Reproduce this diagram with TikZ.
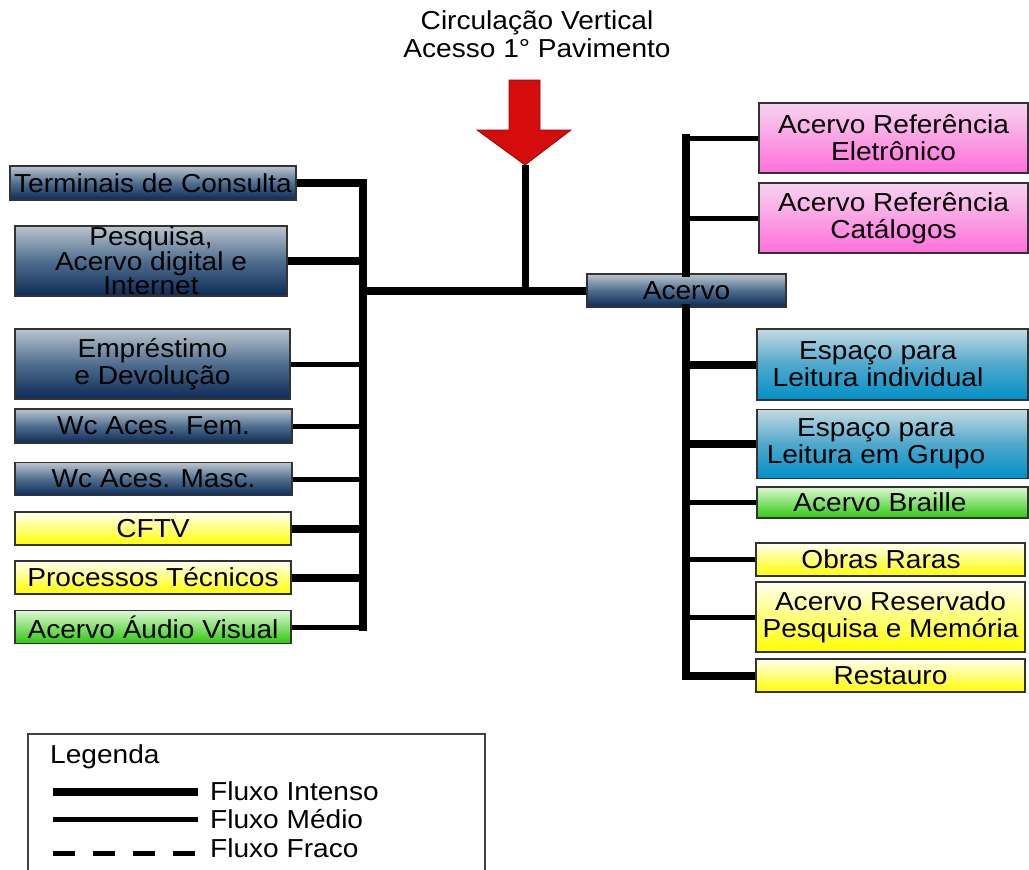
\documentclass[tikz,border=0pt]{standalone}
\usepackage{fontspec}
\setmainfont{Liberation Sans}[FakeStretch=1.08]
\newcommand\bfs{\fontsize{26}{27}\selectfont}
\newcommand\pfs{\fontsize{26}{24}\selectfont}
\definecolor{navytop}{HTML}{BCC5CF}
\definecolor{navymid}{HTML}{4F6E8E}
\definecolor{navybot}{HTML}{0C2A55}
\definecolor{pinktop}{HTML}{F6D4EF}
\definecolor{pinkbot}{HTML}{FF6FDB}
\definecolor{bluetop}{HTML}{C4DAE2}
\definecolor{bluemid}{HTML}{4FA8CC}
\definecolor{bluebot}{HTML}{0090C8}
\definecolor{greentop}{HTML}{DDF8D4}
\definecolor{greenbot}{HTML}{2EC80E}
\definecolor{yeltop}{HTML}{FFFFF2}
\definecolor{yelbot}{HTML}{FFFF00}
\definecolor{arrowred}{HTML}{D40C0C}
\tikzset{
  box/.style={draw=black!80, line width=1.5pt, inner sep=0pt, align=center, font=\bfs},
  navybox/.style={box, top color=navytop, bottom color=navybot, middle color=navymid},
  pinkbox/.style={box, top color=pinktop, bottom color=pinkbot},
  bluebox/.style={box, top color=bluetop, bottom color=bluebot, middle color=bluemid},
  greenbox/.style={box, top color=greentop, bottom color=greenbot},
  yelbox/.style={box, top color=yeltop, bottom color=yelbot},
  intenso/.style={line width=8pt},
  medio/.style={line width=5pt},
  fraco/.style={line width=5pt, dash pattern=on 22pt off 18pt},
  trunk/.style={line width=8pt, line cap=rect},
  lbl/.style={font=\bfs, inner sep=0pt},
  inlbl/.style={font=\bfs, inner sep=0pt, align=center},
}
\begin{document}
\begin{tikzpicture}[x=1pt, y=-1pt, line join=miter]
\useasboundingbox (0,0) rectangle (1029,870);
\fill[white] (0,0) rectangle (1029,870);

% title
\node[lbl, anchor=base] (title1) at (537,30) {Circulação Vertical};
\node[lbl, anchor=base] (title2) at (537,57) {Acesso 1° Pavimento};

% red arrow
\filldraw[fill=arrowred, draw=arrowred!70!black, line width=0.8pt]
  (509,80) -- (540,80) -- (540,130) -- (571,130) -- (525,165) -- (477,130) -- (509,130) -- cycle;
\coordinate (tip) at (525,165);

% left boxes
\node[navybox, minimum width=286, minimum height=34] (term) at (153,183) {Terminais de Consulta};
\node[navybox, minimum width=272, minimum height=70, font=\pfs] (pesq) at (151,261) {Pesquisa,\\Acervo digital e\\Internet};
\node[navybox, minimum width=275, minimum height=70] (empr) at (152.5,364) {Empréstimo\\e Devolução};
\node[navybox, minimum width=277, minimum height=34] (wcf) at (153.5,426) {Wc Aces. Fem.};
\node[navybox, minimum width=277, minimum height=33] (wcm) at (153.5,479) {Wc Aces. Masc.};
\node[yelbox, minimum width=276, minimum height=33] (cftv) at (153,528.5) {CFTV};
\node[yelbox, minimum width=276, minimum height=33] (proc) at (153,577.5) {Processos Técnicos};
\node[greenbox, minimum width=276, minimum height=33] (aud) at (153,627) {Acervo Áudio Visual};

% right boxes
\node[navybox, minimum width=199, minimum height=33] (acervo) at (686.5,290.5) {Acervo};
\node[pinkbox, minimum width=269, minimum height=70] (ref1) at (893.5,138) {Acervo Referência\\Eletrônico};
\node[pinkbox, minimum width=269, minimum height=70] (ref2) at (893.5,218) {Acervo Referência\\Catálogos};
\node[bluebox, minimum width=271, minimum height=71] (lind) at (892.5,364.5) {};
\node[inlbl] (lindt) at (878,364.5) {Espaço para\\Leitura individual};
\node[bluebox, minimum width=271, minimum height=69] (lgrp) at (892.5,444) {};
\node[inlbl] (lgrpt) at (876,444) {Espaço para\\Leitura em Grupo};
\node[greenbox, minimum width=271, minimum height=31] (brl) at (892.5,502.5) {};
\node[inlbl] (brlt) at (880,502.5) {Acervo Braille};
\node[yelbox, minimum width=269, minimum height=33] (obras) at (890.5,559.5) {};
\node[inlbl] (obrast) at (881,559.5) {Obras Raras};
\node[yelbox, minimum width=269, minimum height=70] (resv) at (890.5,617) {Acervo Reservado\\Pesquisa e Memória};
\node[yelbox, minimum width=269, minimum height=33] (rest) at (890.5,675.5) {Restauro};

% left trunk
\coordinate (LB) at (363,627);
\coordinate (LM) at (363,290.5);
\draw[intenso] (term.east) -| (LB);
\draw[trunk] (term.east -| LB) -- (LB);
\draw[intenso] (pesq.east) -- (pesq.east -| LB);
\draw[medio] (empr.east) -- (empr.east -| LB);
\draw[medio] (wcf.east) -- (wcf.east -| LB);
\draw[medio] (wcm.east) -- (wcm.east -| LB);
\draw[intenso] (cftv.east) -- (cftv.east -| LB);
\draw[intenso] (proc.east) -- (proc.east -| LB);
\draw[medio] (aud.east) -- (aud.east -| LB);

% main horizontal and arrow stem
\draw[intenso] (LM) -- (acervo.west);
\draw[line width=7pt] (tip) -- (tip |- LM);

% right trunk
\coordinate (RT) at (686,138);
\coordinate (RB) at (686,675.5);
\draw[trunk] (RT) -- (acervo.north -| RT);
\draw[trunk] (acervo.south -| RT) -- (RB);
\draw[intenso] (acervo.south -| RB) -- (RB) -- (rest.west);
\draw[medio] (ref1.west) -- (ref1.west -| RT);
\draw[medio] (ref2.west) -- (ref2.west -| RT);
\draw[intenso] (lind.west) -- (lind.west -| RT);
\draw[intenso] (lgrp.west) -- (lgrp.west -| RT);
\draw[medio] (brl.west) -- (brl.west -| RT);
\draw[medio] (obras.west) -- (obras.west -| RT);
\draw[medio] (resv.west) -- (resv.west -| RT);

% legend
\draw[black!75, line width=1.5pt] (28,870) -- (28,734) -- (485,734) -- (485,870);
\node[lbl, anchor=base west] (leg) at (50,763) {Legenda};
\node[lbl, anchor=base west] (fi) at (210,800) {Fluxo Intenso};
\node[lbl, anchor=base west] (fm) at (210,828) {Fluxo Médio};
\node[lbl, anchor=base west] (ff) at (210,857) {Fluxo Fraco};
\coordinate (l1a) at (53,792); \coordinate (l1b) at (198,792);
\coordinate (l2a) at (53,819); \coordinate (l2b) at (198,819);
\coordinate (l3a) at (53,853); \coordinate (l3b) at (198,853);
\draw[intenso] (l1a) -- (l1b);
\draw[medio] (l2a) -- (l2b);
\draw[fraco] (l3a) -- (l3b);
\end{tikzpicture}
\end{document}
